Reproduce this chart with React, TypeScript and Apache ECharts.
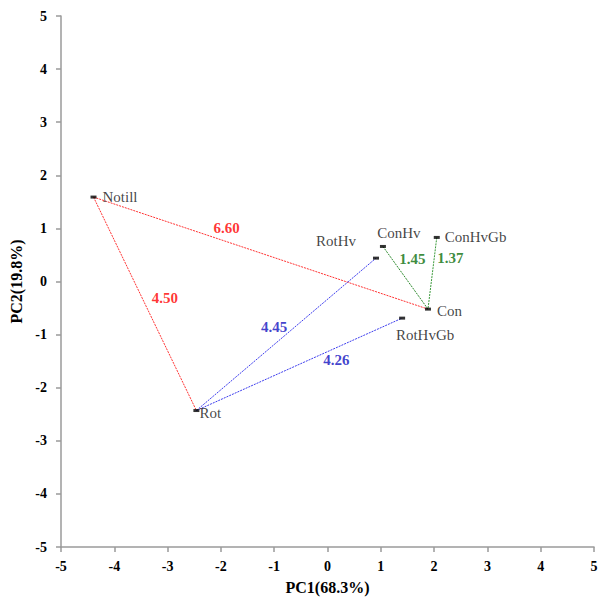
import React, { useEffect, useRef } from "react";
import * as echarts from "echarts";

// ---- data ----
const pointNames = ["Notill", "Rot", "RotHv", "ConHv", "ConHvGb", "Con", "RotHvGb"];
const pc1 = [-4.39, -2.46, 0.91, 1.04, 2.05, 1.885, 1.4];
const pc2 = [1.59, -2.43, 0.44, 0.66, 0.83, -0.52, -0.69];

const linkFrom = ["Notill", "Notill", "Rot", "Rot", "ConHv", "ConHvGb"];
const linkTo = ["Con", "Rot", "RotHv", "RotHvGb", "Con", "Con"];
const linkDist = ["6.60", "4.50", "4.45", "4.26", "1.45", "1.37"];

const xTicks = [-5, -4, -3, -2, -1, 0, 1, 2, 3, 4, 5];
const yTicks = [-5, -4, -3, -2, -1, 0, 1, 2, 3, 4, 5];

// ---- styles ----
const FONT = "'Liberation Serif', 'Times New Roman', serif";
const linkLineColor = ["#ff3333", "#ff3333", "#3d3dee", "#3d3dee", "#2e8b2e", "#3a9a3a"];
const linkTextColor = ["#ff0000", "#ff0000", "#1010c0", "#1010c0", "#0a6e0a", "#0a6e0a"];
const linkLabelOffset: number[][] = [
  [-34, -25],
  [20, -6],
  [-12, -7],
  [37, -4],
  [7, -19],
  [18, -15],
];
// label style for each point: [align, dx, dy]
const pointLabelCfg: [string, number, number][] = [
  ["left", 9, 0],
  ["left", 3, 2],
  ["center", -40, -17],
  ["center", 16, -13],
  ["left", 8, 0],
  ["left", 9, 2],
  ["center", 23, 17],
];

export default function App() {
  const ref = useRef<HTMLDivElement>(null);
  useEffect(() => {
    document.body.style.margin = "0";
    const chart = echarts.init(ref.current!, null, { renderer: "svg" });
    const idx = (n: string) => pointNames.indexOf(n);

    const lineSeries = linkFrom.map((f, i) => {
      const a = idx(f);
      const b = idx(linkTo[i]);
      return {
        type: "line",
        silent: true,
        symbol: "none",
        z: 1,
        lineStyle: { color: linkLineColor[i], width: 1, type: [2, 1] },
        data: [
          [pc1[a], pc2[a]],
          [pc1[b], pc2[b]],
        ],
      };
    });

    const distData = linkFrom.map((f, i) => {
      const a = idx(f);
      const b = idx(linkTo[i]);
      return {
        name: linkDist[i],
        value: [(pc1[a] + pc1[b]) / 2, (pc2[a] + pc2[b]) / 2],
        label: {
          offset: linkLabelOffset[i],
          color: linkTextColor[i],
        },
      };
    });

    const pointData = pointNames.map((n, i) => ({
      name: n,
      value: [pc1[i], pc2[i]],
      label: {
        align: pointLabelCfg[i][0],
        offset: [pointLabelCfg[i][1], pointLabelCfg[i][2]],
      },
    }));

    const axisCommon = {
      type: "value",
      min: -5,
      max: 5,
      interval: 1,
      splitLine: { show: false },
      axisLine: { show: true, onZero: false, lineStyle: { color: "#9a9a9a", width: 1.5 } },
      axisTick: { show: true, inside: false, length: 5, lineStyle: { color: "#9a9a9a", width: 1.5 } },
      nameLocation: "middle",
      nameTextStyle: { fontFamily: FONT, fontWeight: "bold", fontSize: 16, color: "#000" },
    };

    chart.setOption({
      animation: false,
      backgroundColor: "#ffffff",
      grid: { left: 61, right: 9, top: 16, bottom: 49, containLabel: false },
      xAxis: {
        ...axisCommon,
        name: "PC1(68.3%)",
        nameGap: 32,
        axisLabel: {
          margin: 12,
          fontFamily: FONT,
          fontWeight: "bold",
          fontSize: 14,
          color: "#000",
          formatter: (v: number) => (xTicks.includes(v) ? String(v) : ""),
        },
      },
      yAxis: {
        ...axisCommon,
        name: "PC2(19.8%)",
        nameGap: 31,
        axisLabel: {
          margin: 14,
          fontFamily: FONT,
          fontWeight: "bold",
          fontSize: 14,
          color: "#000",
          formatter: (v: number) => (yTicks.includes(v) ? String(v) : ""),
        },
      },
      series: [
        ...lineSeries,
        {
          type: "scatter",
          z: 3,
          symbol: "rect",
          symbolSize: [6, 3],
          itemStyle: { color: "#000" },
          label: {
            show: true,
            position: "inside",
            formatter: "{b}",
            fontFamily: FONT,
            fontSize: 15,
            color: "#111",
            verticalAlign: "middle",
          },
          data: pointData,
        },
        {
          type: "scatter",
          z: 4,
          symbolSize: 0,
          silent: true,
          label: {
            show: true,
            position: "inside",
            formatter: "{b}",
            fontFamily: FONT,
            fontSize: 15,
            fontWeight: "bold",
            align: "center",
            verticalAlign: "middle",
          },
          data: distData,
        },
      ],
    });
    return () => chart.dispose();
  }, []);
  return <div ref={ref} style={{ width: 603, height: 600 }} />;
}
